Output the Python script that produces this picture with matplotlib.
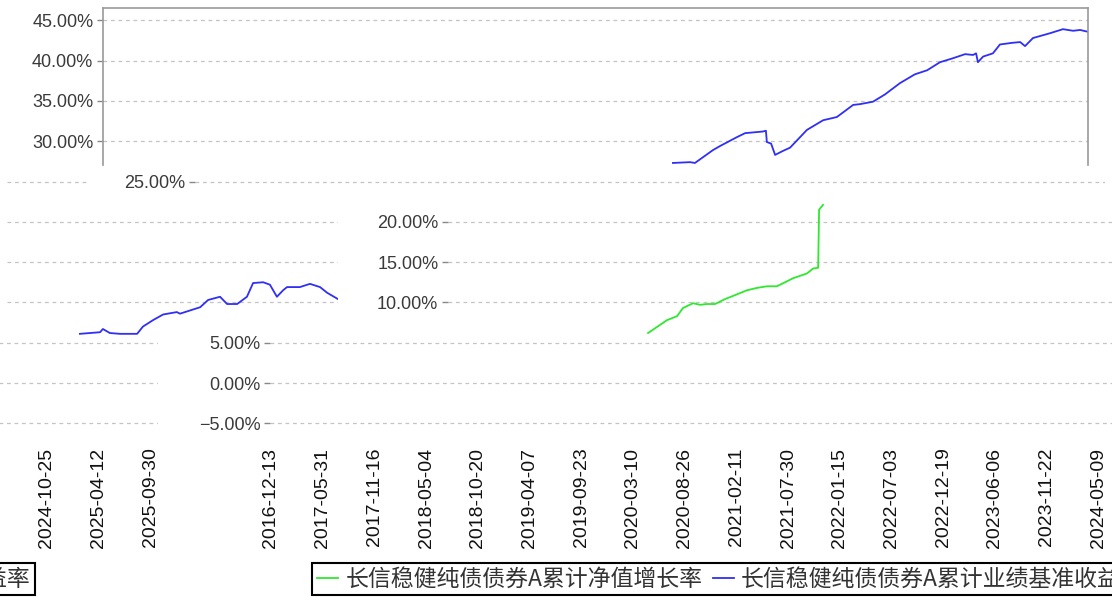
import matplotlib
matplotlib.use("Agg")
import matplotlib.pyplot as plt
import pandas as pd
from matplotlib.lines import Line2D
from matplotlib.ticker import FixedLocator, FuncFormatter
from matplotlib.font_manager import FontProperties

plt.rcParams['font.family'] = ['Liberation Sans', 'DejaVu Sans']

# ---------------- data ----------------
fund_name = "长信稳健纯债债券A累计净值增长率"
bench_name = "长信稳健纯债债券A累计业绩基准收益率"

fund_dates = ['2018-09-28', '2018-11-29', '2019-01-01', '2019-01-20', '2019-02-22',
              '2019-03-17', '2019-04-09', '2019-05-05', '2019-06-06', '2019-07-09',
              '2019-08-17', '2019-09-19', '2019-10-22', '2019-11-23', '2019-12-20',
              '2020-01-15', '2020-02-07', '2020-03-01', '2020-03-20', '2020-04-06',
              '2020-04-09', '2020-04-22']
fund_vals = [6.2, 7.8, 8.3, 9.3, 9.9, 9.7, 9.8, 9.8, 10.4, 10.9,
             11.5, 11.8, 12.0, 12.0, 12.5, 13.0, 13.3, 13.6, 14.2, 14.3,
             21.5, 22.1]

bench_early_dates = ['2018-01-09', '2018-03-16', '2018-03-25', '2018-04-17', '2018-05-20',
                     '2018-07-15', '2018-08-03', '2018-09-05', '2018-10-08', '2018-11-22',
                     '2018-12-02', '2019-01-04', '2019-02-06', '2019-03-04', '2019-04-12',
                     '2019-05-05', '2019-06-07', '2019-07-09', '2019-07-29', '2019-08-31',
                     '2019-09-22', '2019-10-15', '2019-11-04', '2019-11-17', '2019-12-29',
                     '2020-01-31', '2020-03-04', '2020-03-27', '2020-05-02']
bench_early_vals = [6.1, 6.3, 6.7, 6.2, 6.1, 6.1, 7.0, 7.8, 8.5, 8.8,
                    8.6, 9.0, 9.4, 10.3, 10.7, 9.8, 9.8, 10.7, 12.4, 12.5,
                    12.2, 10.7, 11.5, 11.9, 11.9, 12.3, 11.9, 11.2, 10.4]

bench_late_dates = ['2022-01-19', '2022-03-16', '2022-04-01', '2022-05-30', '2022-06-22',
                    '2022-08-16', '2022-09-12', '2022-11-09', '2022-11-19', '2022-11-22',
                    '2022-12-06', '2022-12-19', '2023-01-14', '2023-02-06', '2023-04-02',
                    '2023-05-25', '2023-07-09', '2023-08-31', '2023-09-23', '2023-11-04',
                    '2023-12-13', '2024-01-31', '2024-03-20', '2024-04-29', '2024-06-10',
                    '2024-07-23', '2024-08-31', '2024-09-26', '2024-10-06', '2024-10-12',
                    '2024-10-29', '2024-11-30', '2024-12-23', '2025-01-31', '2025-02-27',
                    '2025-03-15', '2025-04-10', '2025-06-05', '2025-07-17', '2025-08-19',
                    '2025-09-11', '2025-10-04']
bench_late_vals = [27.3, 27.4, 27.3, 28.9, 29.4, 30.5, 31.0, 31.2, 31.3, 29.9,
                   29.7, 28.3, 28.8, 29.2, 31.4, 32.6, 33.0, 34.5, 34.6, 34.9,
                   35.8, 37.2, 38.3, 38.8, 39.8, 40.3, 40.8, 40.7, 40.9, 39.8,
                   40.5, 40.9, 42.0, 42.2, 42.3, 41.8, 42.8, 43.4, 43.9, 43.7,
                   43.8, 43.6]

x_tick_labels = ['2016-12-13', '2017-05-31', '2017-11-16', '2018-05-04', '2018-10-20',
                 '2019-04-07', '2019-09-23', '2020-03-10', '2020-08-26', '2021-02-11',
                 '2021-07-30', '2022-01-15', '2022-07-03', '2022-12-19', '2023-06-06',
                 '2023-11-22', '2024-05-09', '2024-10-25', '2025-04-12', '2025-09-30']
y_ticks = [-5, 0, 5, 10, 15, 20, 25, 30, 35, 40, 45]

# ---------------- layout / style ----------------
FW, FH = 1112, 597
fig = plt.figure(figsize=(FW / 100, FH / 100), dpi=100, facecolor='white')

Y0_PX, PX_PER_PCT = 383.0, 8.06
PX_PER_DAY = 51.7 / 169
START = pd.Timestamp(x_tick_labels[0])
WRAP = 1103

BLUE = '#2f2ff5'
GREEN = '#2fe82f'
GRID = '#c4c4c4'
LABEL = '#3a3a3a'

def pct_fmt(v, pos=None):
    s = f"{abs(v):.2f}%"
    return ('\u2212' + s) if v < 0 else s

def add_piece(x0, x1, y0, y1, origin, labels=False):
    ax = fig.add_axes([x0 / FW, 1 - y1 / FH, (x1 - x0) / FW, (y1 - y0) / FH])
    ax.set_ylim((Y0_PX - y1) / PX_PER_PCT, (Y0_PX - y0) / PX_PER_PCT)
    ax.set_xlim(START + pd.Timedelta(days=(x0 - origin) / PX_PER_DAY),
                START + pd.Timedelta(days=(x1 - origin) / PX_PER_DAY))
    ax.patch.set_alpha(0)
    for s in ax.spines.values():
        s.set_visible(False)
    ax.set_xticks([])
    ax.yaxis.set_major_locator(FixedLocator(y_ticks))
    ax.yaxis.set_major_formatter(FuncFormatter(pct_fmt))
    ax.yaxis.grid(True, color=GRID, linestyle=(0, (3, 3)), linewidth=0.9)
    ax.set_axisbelow(True)
    if labels:
        ax.tick_params(axis='y', length=4, width=1, color='#888888', pad=3,
                       labelsize=13, labelcolor=LABEL)
    else:
        ax.tick_params(axis='y', length=0, labelleft=False)
    return ax

fund_x = pd.to_datetime(fund_dates)
be_x = pd.to_datetime(bench_early_dates)
bl_x = pd.to_datetime(bench_late_dates)

# top band
ax_top = add_piece(103, 1088, 8, 165, origin=103, labels=True)
for side in ('left', 'right', 'top'):
    ax_top.spines[side].set_visible(True)
    ax_top.spines[side].set_color('#999999')
    ax_top.spines[side].set_linewidth(1.2)
ax_top.plot(bl_x, bench_late_vals, color=BLUE, lw=1.3)
ax_edge = fig.add_axes([98 / FW, 1 - 165 / FH, 0.0001, (165 - 8) / FH])
ax_edge.axis('off')
ax_edge.add_line(Line2D([0, 0], [0, 1], color='#999999', lw=1.2, transform=ax_edge.transAxes))

# thin band with 25%
add_piece(195, 1105, 168, 196, origin=195, labels=True)
add_piece(7, 88, 168, 196, origin=0)

# middle band
ax_mr = add_piece(448, 1433, 196, 337, origin=448, labels=True)
ax_mr.plot(fund_x, fund_vals, color=GREEN, lw=1.3)
ax_ml = add_piece(7, 338, 196, 337, origin=-40)
ax_ml.plot(be_x, bench_early_vals, color=BLUE, lw=1.3)

# bottom band with date axis
for x0, x1, org, lab in [(270, 1258, 271, True), (271 - WRAP, 158, 271 - WRAP, False)]:
    ax_b = add_piece(x0, x1, 337, 435, origin=org, labels=lab)
    ax_b.set_xticks(pd.to_datetime(x_tick_labels))
    ax_b.set_xticklabels(x_tick_labels, rotation=90, fontsize=14, color='#111111')
    ax_b.tick_params(axis='x', length=0, pad=9)

# legend (drawn twice: main box + wrapped fragment)
handles = [Line2D([], [], color=GREEN, lw=1.3), Line2D([], [], color=BLUE, lw=1.3)]
labels = [fund_name, bench_name]
lp = FontProperties(family=['Noto Sans CJK SC', 'DejaVu Sans'], size=16.5)
for loc, xa in [('upper left', 312), ('upper right', 35)]:
    leg = fig.legend(handles, labels, loc=loc, bbox_to_anchor=(xa / FW, 1 - 563 / FH),
                     ncol=2, frameon=True, fancybox=False, edgecolor='black', framealpha=1,
                     prop=lp, handlelength=0.95, handletextpad=0.3, columnspacing=0.45,
                     borderpad=0.2, borderaxespad=0, labelcolor='#333333')
    leg.get_frame().set_linewidth(1.5)

fig.savefig('out.png', dpi=100, facecolor='white')
